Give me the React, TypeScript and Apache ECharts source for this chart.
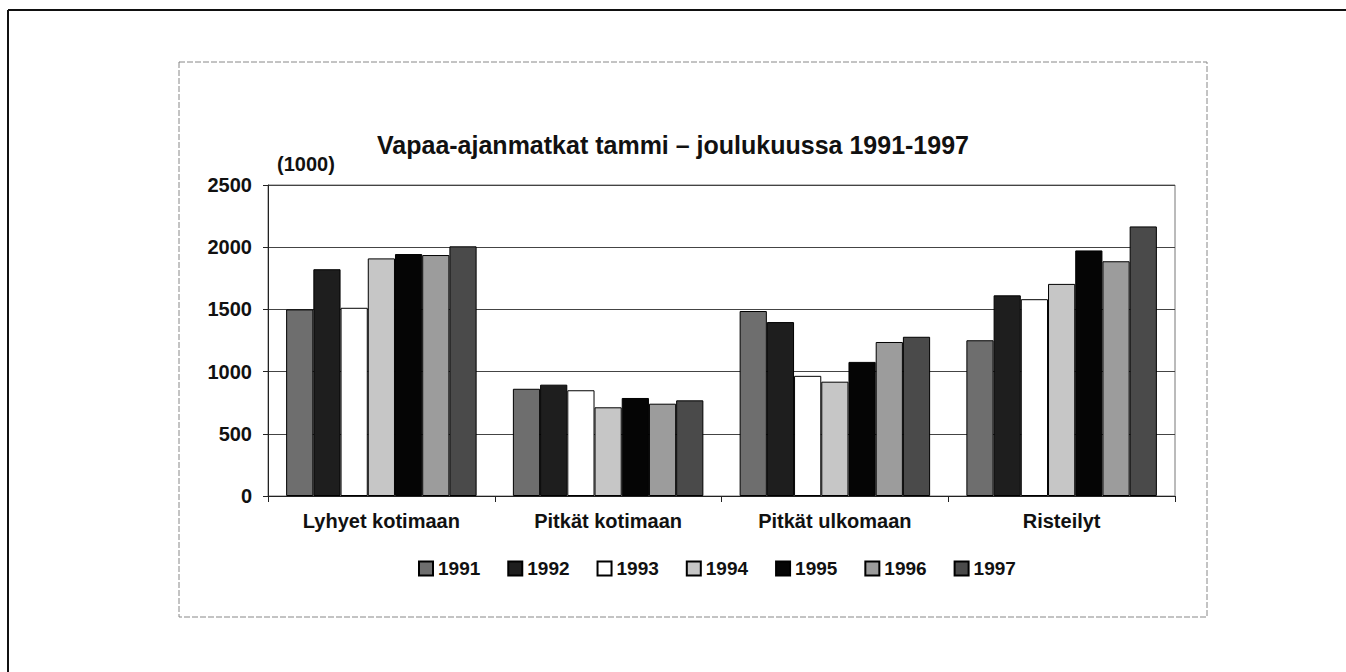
import React, { useEffect, useRef } from "react";
import * as echarts from "echarts";

const categories = ["Lyhyet kotimaan", "Pitkät kotimaan", "Pitkät ulkomaan", "Risteilyt"];
const years = ["1991", "1992", "1993", "1994", "1995", "1996", "1997"];
const v1991 = [1500, 862, 1487, 1252];
const v1992 = [1823, 895, 1398, 1613];
const v1993 = [1513, 850, 966, 1582];
const v1994 = [1910, 713, 919, 1705];
const v1995 = [1945, 788, 1078, 1974];
const v1996 = [1937, 742, 1238, 1887];
const v1997 = [2007, 769, 1280, 2167];
const seriesValues = [v1991, v1992, v1993, v1994, v1995, v1996, v1997];
const yTicks = [0, 500, 1000, 1500, 2000, 2500];
const colors = ["#6e6e6e", "#1e1e1e", "#ffffff", "#c6c6c6", "#050505", "#9c9c9c", "#4a4a4a"];

const FONT = "'Liberation Sans', Arial, sans-serif";

export default function App() {
  const ref = useRef<HTMLDivElement>(null);
  useEffect(() => {
    if (!ref.current) return;
    const chart = echarts.init(ref.current, null, { renderer: "svg" });
    chart.setOption({
      animation: false,
      backgroundColor: "#ffffff",
      textStyle: { fontFamily: FONT },
      title: {
        text: "Vapaa-ajanmatkat tammi – joulukuussa 1991-1997",
        left: "center",
        top: 127,
        textStyle: { fontFamily: FONT, fontSize: 25, fontWeight: "bold", color: "#111" },
      },
      legend: {
        data: years,
        top: 554,
        left: 413,
        itemWidth: 14,
        itemHeight: 14,
        itemGap: 27,
        icon: "rect",
        textStyle: { fontFamily: FONT, fontSize: 19, fontWeight: "bold", color: "#111" },
      },
      grid: {
        left: 268,
        top: 185,
        right: 171,
        bottom: 176,
        show: true,
        borderColor: "#777",
        borderWidth: 1,
        containLabel: false,
      },
      xAxis: {
        type: "category",
        data: categories,
        axisLine: { lineStyle: { color: "#222", width: 1 } },
        axisTick: { show: true, alignWithLabel: false, length: 6, lineStyle: { color: "#222" } },
        axisLabel: { fontFamily: FONT, fontSize: 20, fontWeight: "bold", color: "#111", margin: 15 },
      },
      yAxis: {
        type: "value",
        min: yTicks[0],
        max: yTicks[yTicks.length - 1],
        interval: 500,
        axisLine: { show: true, lineStyle: { color: "#222", width: 1 } },
        axisTick: { show: true, length: 5, lineStyle: { color: "#222" } },
        axisLabel: {
          fontFamily: FONT,
          fontSize: 20,
          fontWeight: "bold",
          color: "#111",
          margin: 16,
          formatter: (v: number) => String(v),
        },
        splitLine: { show: true, lineStyle: { color: "#444", width: 1 } },
      },
      series: years.map((y, i) => ({
        name: y,
        type: "bar",
        data: seriesValues[i],
        barGap: "0%",
        barCategoryGap: "16%",
        itemStyle: { color: colors[i], borderColor: "#000", borderWidth: 1 },
      })),
      graphic: [
        {
          type: "text",
          left: 277,
          top: 154,
          style: { text: "(1000)", fontFamily: FONT, fontSize: 20, fontWeight: "bold", fill: "#111" },
        },
        {
          type: "rect",
          shape: { x: 179, y: 62, width: 1028, height: 555 },
          style: { fill: "none", stroke: "#888", lineWidth: 1, lineDash: [6, 2] },
          silent: true,
        },
        {
          type: "line",
          shape: { x1: 8, y1: 10, x2: 1346, y2: 10 },
          style: { stroke: "#111", lineWidth: 2 },
          silent: true,
        },
        {
          type: "line",
          shape: { x1: 8, y1: 10, x2: 8, y2: 672 },
          style: { stroke: "#111", lineWidth: 2 },
          silent: true,
        },
      ],
    });
    return () => chart.dispose();
  }, []);
  return (
    <div
      ref={ref}
      style={{ position: "fixed", left: 0, top: 0, width: 1346, height: 672 }}
    />
  );
}
